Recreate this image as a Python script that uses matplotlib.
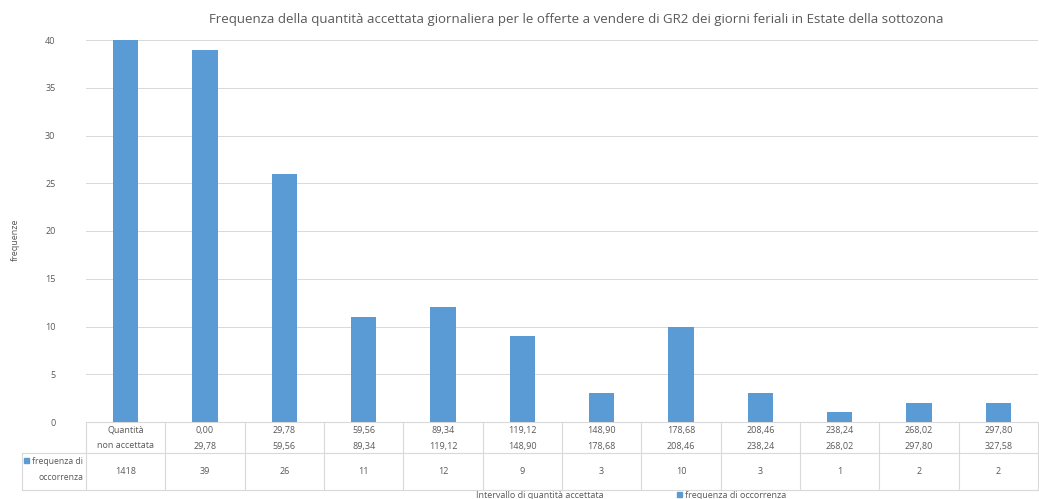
import matplotlib.pyplot as plt
import matplotlib.transforms as mtransforms
import numpy as np

# dati
categorie_da = ["Quantità", "0,00", "29,78", "59,56", "89,34", "119,12", "148,90",
                "178,68", "208,46", "238,24", "268,02", "297,80"]
categorie_a = ["non accettata", "29,78", "59,56", "89,34", "119,12", "148,90", "178,68",
               "208,46", "238,24", "268,02", "297,80", "327,58"]
frequenze = [1418, 39, 26, 11, 12, 9, 3, 10, 3, 1, 2, 2]
yticks = [0, 5, 10, 15, 20, 25, 30, 35, 40]

colore = '#5B9BD5'
grigio = '#595959'
linea = '#D9D9D9'
plt.rcParams['font.family'] = ['Open Sans', 'DejaVu Sans']

W, H = 1039, 499
fig = plt.figure(figsize=(W / 100, H / 100), dpi=100)


def fx(px):  # pixel -> frazione figura (x)
    return px / W


def fy(py):  # pixel (dall'alto) -> frazione figura (y)
    return 1 - py / H


left, right, top, bottom = 86, 1038, 40, 422
ax = fig.add_axes([fx(left), fy(bottom), fx(right - left), fy(top) - fy(bottom)])

x = np.arange(len(frequenze))
ax.bar(x, frequenze, width=0.32, color=colore, zorder=3)
ax.set_xlim(-0.5, len(frequenze) - 0.5)
ax.set_ylim(0, 40)
ax.set_yticks(yticks)
ax.tick_params(axis='y', length=0, labelsize=6.5, labelcolor=grigio, pad=22)
ax.set_xticks([])
ax.grid(axis='y', color=linea, linewidth=0.7, zorder=0)
for s in ax.spines.values():
    s.set_visible(False)

# titolo e assi
fig.text(fx(576), fy(19), "Frequenza della quantità accettata giornaliera per le offerte a vendere di GR2 "
         "dei giorni feriali in Estate della sottozona", ha='center', va='center',
         fontsize=9.5, color=grigio)
fig.text(fx(15), fy(240), "frequenze", rotation=90, ha='center', va='center', fontsize=6.5, color=grigio)
fig.text(fx(540), fy(496), "Intervallo di quantità accettata", ha='center', va='center',
         fontsize=6.5, color=grigio)

# tabella dati sotto il grafico
tr = mtransforms.blended_transform_factory(ax.transData, fig.transFigure)
r0, r1, r2 = 422, 453, 490
lw = 0.8
ax.plot([-0.5, len(frequenze) - 0.5], [fy(r0)] * 2, transform=tr, color=linea, lw=lw, clip_on=False)
for r in (r1, r2):
    fig.add_artist(plt.Line2D([fx(22), fx(right)], [fy(r)] * 2, color=linea, lw=lw))
fig.add_artist(plt.Line2D([fx(22), fx(22)], [fy(r1), fy(r2)], color=linea, lw=lw))
for b in np.arange(len(frequenze) + 1) - 0.5:
    ax.plot([b, b], [fy(r0), fy(r2)], transform=tr, color=linea, lw=lw, clip_on=False)

for i in x:
    ax.text(i, fy(430), categorie_da[i], transform=tr, ha='center', va='center', fontsize=6.5, color=grigio)
    ax.text(i, fy(446), categorie_a[i], transform=tr, ha='center', va='center', fontsize=6.5, color=grigio)
    ax.text(i, fy(472), str(frequenze[i]), transform=tr, ha='center', va='center', fontsize=6.5, color=grigio)

# cella legenda nella tabella
fig.add_artist(plt.Rectangle((fx(24), fy(463)), fx(5), fy(458) - fy(463), color=colore))
fig.text(fx(83), fy(462), "frequenza di", ha='right', va='center', fontsize=6.2, color=grigio)
fig.text(fx(83), fy(478), "occorrenza", ha='right', va='center', fontsize=6.2, color=grigio)

# legenda in basso
fig.add_artist(plt.Rectangle((fx(677), fy(497)), fx(5), fy(492) - fy(497), color=colore))
fig.text(fx(685), fy(495), "frequenza di occorrenza", ha='left', va='center', fontsize=6.5, color=grigio)

fig.savefig('out.png', dpi=100, facecolor='white')
